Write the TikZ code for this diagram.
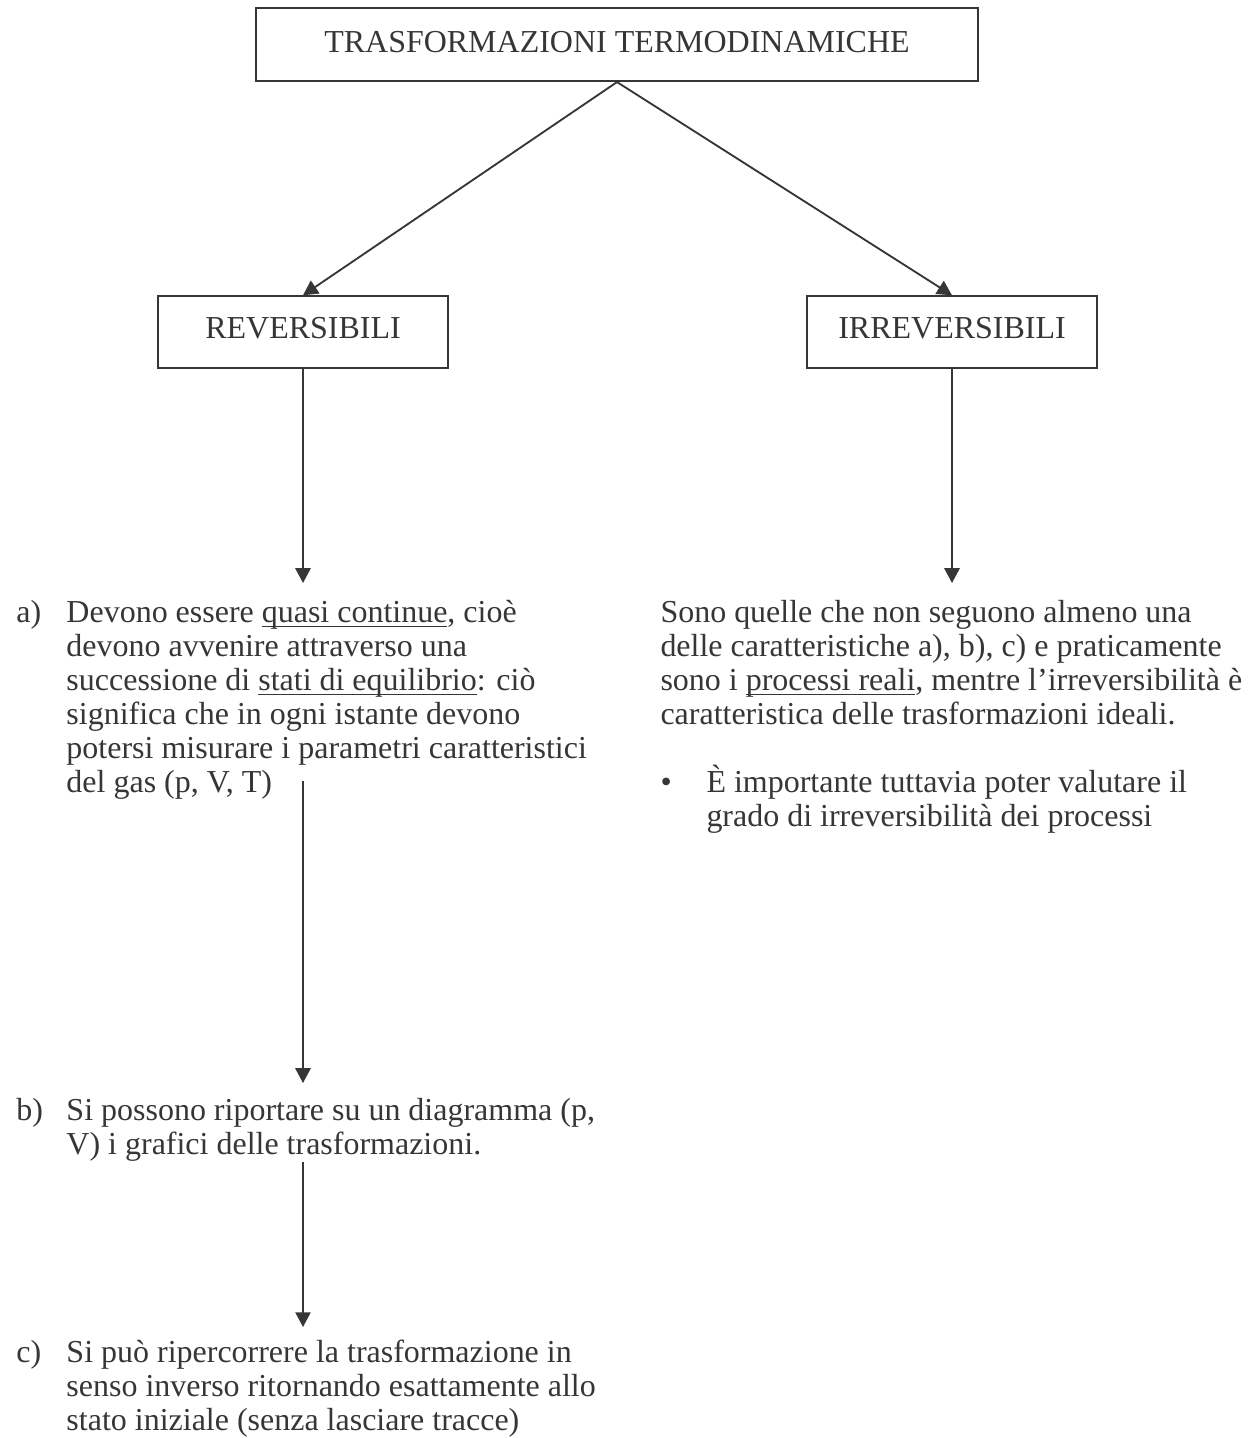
\documentclass[tikz,border=0pt]{standalone}
\usepackage{fontspec}
\setmainfont{Liberation Serif}
\usetikzlibrary{arrows.meta}
\definecolor{ink}{HTML}{363636}
\newcommand\myul[1]{\setbox0\hbox{#1}\rlap{\rule[-2.1pt]{\wd0}{0.6pt}}\box0}
\tikzset{
  txt/.style={text=ink, font=\fontsize{13}{13.82}\selectfont},
  box/.style={draw=ink, line width=0.85pt, inner sep=0pt, txt},
  ln/.style={anchor=base west, inner sep=0pt, txt},
  conn/.style={draw=ink, line width=0.75pt},
  arr/.style={conn, -{Triangle[length=6pt,width=6.2pt]}},
}
\begin{document}
\begin{tikzpicture}[x=0.4065pt,y=-0.4065pt]
\fill[white] (0,0) rectangle (1253,1438);
\useasboundingbox (0,0) rectangle (1253,1438);
% boxes
\node[box, text depth=2pt, minimum width=293.5pt, minimum height=29.7pt] (top) at (617,44.5) {TRASFORMAZIONI TERMODINAMICHE};
\node[box, text depth=3.5pt, minimum width=117.9pt, minimum height=29pt] (rev) at (303,332) {REVERSIBILI};
\node[box, text depth=3.5pt, minimum width=117.9pt, minimum height=29pt] (irr) at (952,332) {IRREVERSIBILI};
% left column a)
\node[ln] (ala) at (16,622) {a)};
\node[ln] (a1) at (66,622) {Devono essere \myul{quasi continue}, cioè};
\node[ln] (a2) at (66,656) {devono avvenire attraverso una};
\node[ln] (a3) at (66,690) {successione di \myul{stati di equilibrio}: ciò};
\node[ln] (a4) at (66,724) {significa che in ogni istante devono};
\node[ln] (a5) at (66,758) {potersi misurare i parametri caratteristici};
\node[ln] (a6) at (66,792) {del gas (p, V, T)};
% b)
\node[ln] (blb) at (16,1120) {b)};
\node[ln] (b1) at (66,1120) {Si possono riportare su un diagramma (p,};
\node[ln] (b2) at (66,1154) {V) i grafici delle trasformazioni.};
% c)
\node[ln] (clb) at (16,1362) {c)};
\node[ln] (c1) at (66,1362) {Si può ripercorrere la trasformazione in};
\node[ln] (c2) at (66,1396) {senso inverso ritornando esattamente allo};
\node[ln] (c3) at (66,1430) {stato iniziale (senza lasciare tracce)};
% right column
\node[ln] (r1) at (660,622) {Sono quelle che non seguono almeno una};
\node[ln] (r2) at (660,656) {delle caratteristiche a), b), c) e praticamente};
\node[ln] (r3) at (660,690) {sono i \myul{processi reali}, mentre l’irreversibilità è};
\node[ln] (r4) at (660,724) {caratteristica delle trasformazioni ideali.};
\node[ln] (bul) at (660,792) {•};
\node[ln] (r5) at (706,792) {È importante tuttavia poter valutare il};
\node[ln] (r6) at (706,826) {grado di irreversibilità dei processi};
% connectors
\coordinate (ra) at (303,583);
\coordinate (ia) at (952,583);
\coordinate (ab1) at (303,781);
\coordinate (ab2) at (303,1083);
\coordinate (bc1) at (303,1162);
\coordinate (bc2) at (303,1327);
\draw[arr] (top.south) -- (rev.north);
\draw[arr] (top.south) -- (irr.north);
\draw[arr] (rev.south) -- (ra);
\draw[arr] (irr.south) -- (ia);
\draw[arr] (ab1) -- (ab2);
\draw[arr] (bc1) -- (bc2);
\end{tikzpicture}
\end{document}
